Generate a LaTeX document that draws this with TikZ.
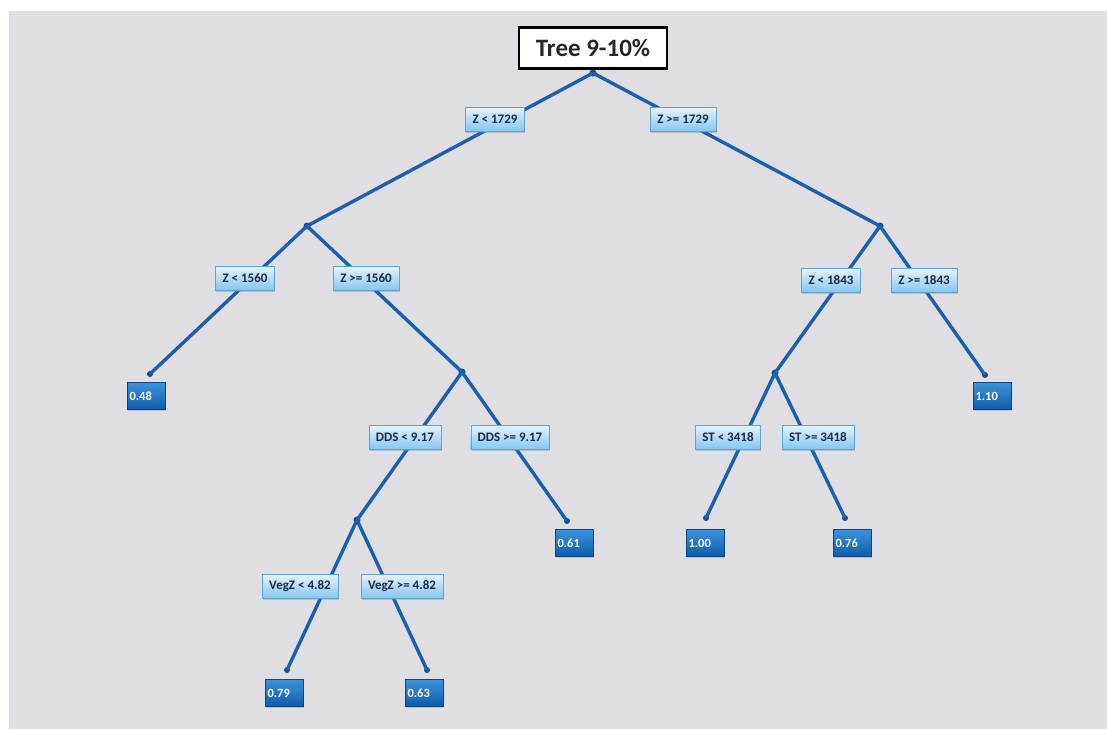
\documentclass[tikz,border=0pt]{standalone}
\usepackage{fontspec}
\setmainfont{Carlito}
\usetikzlibrary{positioning, calc, shadows}
\definecolor{panel_grey}{HTML}{DFDEE3}
\definecolor{edge_blue}{HTML}{1C5FAE}
\definecolor{split_top}{HTML}{E6F3FC}
\definecolor{split_bot}{HTML}{86C6EE}
\definecolor{split_line}{HTML}{5FA4D8}
\definecolor{leaf_top}{HTML}{3C92DA}
\definecolor{leaf_bot}{HTML}{0F5CAA}
\definecolor{leaf_line}{HTML}{0A4784}
\definecolor{label_ink}{HTML}{1B2A48}

\begin{document}
\begin{tikzpicture}[
                x=1pt, y=-1pt,
                title/.style={rectangle, draw=black, line width=2.4pt, fill=white, minimum width=148pt, minimum height=41pt, font=\fontsize{25}{28}\selectfont\bfseries, text=black!85},
                split/.style={rectangle, draw=split_line, thin, top color=split_top, bottom color=split_bot, minimum height=24pt, inner xsep=7pt, font=\fontsize{13}{15}\selectfont\bfseries, text=label_ink, drop shadow={shadow xshift=0.8pt, shadow yshift=-1.6pt, opacity=0.35}},
                leaf/.style={rectangle, draw=leaf_line, thin, top color=leaf_top, bottom color=leaf_bot, text width=33pt, inner xsep=2.5pt, minimum height=27pt, align=left, text=white, font=\fontsize{12.5}{14}\selectfont\bfseries, drop shadow={shadow xshift=0.8pt, shadow yshift=-1.6pt, opacity=0.35}},
                junc/.style={circle, fill=edge_blue!80!black, inner sep=0pt, minimum size=7pt},
                tip/.style={circle, fill=edge_blue!80!black, inner sep=0pt, minimum size=6pt},
                edge/.style={draw=edge_blue, line width=3.4pt}
            ]
                % Background panel
                \fill[white] (0,0) rectangle (1107,729);
                \fill[panel_grey] (9,11) rectangle (1107,729);

                % Title and split points
                \node (title) [title] at (593,48) {Tree 9-10\%};
                \node (root) [junc] at (593,73) {};
                \node (zlo) [junc] at (307,226) {};
                \node (zhi) [junc] at (880,226) {};
                \node (zmid) [junc] at (462,372) {};
                \node (dds) [junc] at (357,520) {};
                \node (zst) [junc] at (775,373) {};

                % End points above the leaves
                \node (t048) [tip] at (150,374) {};
                \node (t061) [tip] at (567,521) {};
                \node (t079) [tip] at (287,670) {};
                \node (t063) [tip] at (427,670) {};
                \node (t100) [tip] at (706,518) {};
                \node (t076) [tip] at (845,518) {};
                \node (t110) [tip] at (985,375) {};

                % Edges
                \path [edge] (root.center) -- (zlo.center);
                \path [edge] (root.center) -- (zhi.center);
                \path [edge] (zlo.center) -- (t048.center);
                \path [edge] (zlo.center) -- (zmid.center);
                \path [edge] (zmid.center) -- (dds.center);
                \path [edge] (zmid.center) -- (t061.center);
                \path [edge] (dds.center) -- (t079.center);
                \path [edge] (dds.center) -- (t063.center);
                \path [edge] (zhi.center) -- (zst.center);
                \path [edge] (zhi.center) -- (t110.center);
                \path [edge] (zst.center) -- (t100.center);
                \path [edge] (zst.center) -- (t076.center);

                % Split labels on the edges
                \node (s1729a) [split] at (495,119) {Z < 1729};
                \node (s1729b) [split] at (683,119) {Z >= 1729};
                \node (s1560a) [split] at (245,278) {Z < 1560};
                \node (s1560b) [split] at (366,278) {Z >= 1560};
                \node (sddsa) [split] at (405,437) {DDS < 9.17};
                \node (sddsb) [split] at (510,437) {DDS >= 9.17};
                \node (svega) [split] at (300,586) {VegZ < 4.82};
                \node (svegb) [split] at (402,586) {VegZ >= 4.82};
                \node (s1843a) [split] at (831,280) {Z < 1843};
                \node (s1843b) [split] at (924,280) {Z >= 1843};
                \node (ssta) [split] at (728,437) {ST < 3418};
                \node (sstb) [split] at (818,437) {ST >= 3418};

                % Leaves
                \node (l048) [leaf] at (146,396) {0.48};
                \node (l061) [leaf] at (574,543) {0.61};
                \node (l079) [leaf] at (284,693) {0.79};
                \node (l063) [leaf] at (424,693) {0.63};
                \node (l100) [leaf] at (705,543) {1.00};
                \node (l076) [leaf] at (852,543) {0.76};
                \node (l110) [leaf] at (992,396) {1.10};
            \end{tikzpicture}
\end{document}
